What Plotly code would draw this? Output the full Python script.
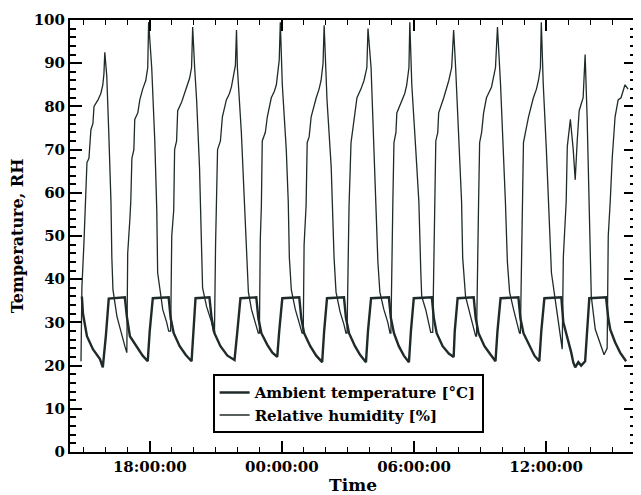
import pandas as pd
import plotly.graph_objects as go

# time in hours from midnight of the first day
temp_hours = [14.92, 14.97, 15.15, 15.42, 15.74, 15.87, 16.01, 16.14, 16.87,
              16.96, 17.10, 17.41, 17.68, 17.91, 18.00, 18.14, 18.86,
              18.95, 19.09, 19.36, 19.63, 19.90, 19.99, 20.08, 20.71,
              20.81, 20.94, 21.21, 21.53, 21.85, 21.98, 22.12, 22.84,
              22.93, 23.07, 23.34, 23.57, 23.79, 23.88, 24.02, 24.79,
              24.88, 25.01, 25.29, 25.56, 25.83, 25.92, 26.05, 26.82,
              26.91, 27.05, 27.32, 27.55, 27.82, 27.91, 28.05, 28.86,
              28.95, 29.09, 29.31, 29.54, 29.77, 29.86, 29.99, 30.81,
              30.90, 31.03, 31.30, 31.58, 31.80, 31.85, 31.98, 32.71,
              32.80, 32.93, 33.20, 33.48, 33.70, 33.79, 33.93, 34.74,
              34.83, 34.97, 35.24, 35.47, 35.69, 35.78, 35.92, 36.69,
              36.78, 36.87, 37.00, 37.14, 37.23, 37.32, 37.46, 37.59, 37.77, 37.86, 37.96, 38.72,
              38.82, 38.91, 39.13, 39.36, 39.63]
temp_values = [36.0, 32.0, 26.8, 23.8, 21.5, 19.6, 27.0, 35.5, 35.8,
               31.4, 26.8, 24.5, 22.3, 21.0, 28.0, 35.6, 35.8,
               31.0, 27.5, 24.5, 22.5, 21.0, 28.0, 35.6, 35.8,
               31.0, 27.5, 24.5, 22.3, 21.3, 28.0, 35.6, 35.8,
               31.0, 27.5, 24.8, 23.0, 22.0, 28.0, 35.6, 35.8,
               31.0, 27.5, 24.5, 22.3, 20.8, 28.0, 35.6, 35.8,
               31.0, 27.5, 24.5, 22.5, 20.8, 28.0, 35.6, 35.8,
               31.0, 27.5, 24.5, 22.3, 20.8, 28.0, 35.6, 35.8,
               31.0, 27.5, 24.5, 22.8, 22.0, 28.0, 35.6, 35.8,
               31.0, 27.5, 24.5, 22.5, 21.0, 28.0, 35.6, 35.8,
               31.0, 27.5, 24.5, 22.3, 21.0, 28.0, 35.6, 35.8,
               30.0, 28.4, 26.0, 23.0, 20.8, 19.6, 20.8, 20.0, 21.0, 28.0, 35.6, 35.8,
               31.0, 28.4, 25.4, 23.0, 21.0]

rh_hours = [14.88, 14.92, 15.01, 15.10, 15.15, 15.24, 15.33, 15.42, 15.47, 15.65,
            15.78, 15.87, 15.92, 15.96, 16.05, 16.14, 16.24, 16.28, 16.33, 16.51,
            16.73, 16.87, 16.96,
            17.00, 17.10, 17.14, 17.19, 17.28, 17.32, 17.46, 17.55, 17.68, 17.82,
            17.86, 17.91, 17.95, 18.09, 18.23, 18.32, 18.36, 18.45, 18.59, 18.77, 18.86,
            18.95, 19.00, 19.09, 19.13, 19.22, 19.27, 19.45, 19.58, 19.67, 19.81,
            19.90, 19.95, 20.04, 20.13, 20.26, 20.35, 20.40, 20.58, 20.81, 20.90,
            20.94, 20.99, 21.03, 21.08, 21.21, 21.30, 21.48, 21.62, 21.71, 21.85,
            21.89, 21.94, 21.98, 22.16, 22.30, 22.39, 22.48, 22.62, 22.80, 22.93,
            22.98, 23.02, 23.07, 23.11, 23.25, 23.34, 23.52, 23.66, 23.75, 23.88,
            23.93, 24.02, 24.20, 24.29, 24.34, 24.43, 24.61, 24.79, 24.92,
            24.97, 25.01, 25.10, 25.15, 25.24, 25.33, 25.56, 25.69, 25.78, 25.87,
            25.92, 26.05, 26.24, 26.28, 26.37, 26.46, 26.64, 26.82, 26.91,
            26.96, 27.00, 27.05, 27.14, 27.23, 27.32, 27.41, 27.59, 27.73, 27.86,
            27.91, 28.05, 28.18, 28.27, 28.36, 28.45, 28.63, 28.81, 28.91,
            28.95, 29.00, 29.04, 29.09, 29.18, 29.22, 29.45, 29.58, 29.67, 29.77,
            29.81, 29.90, 30.08, 30.22, 30.31, 30.35, 30.53, 30.67, 30.76,
            30.85, 30.90, 30.94, 30.99, 31.08, 31.12, 31.35, 31.48, 31.58, 31.71,
            31.80, 31.89, 32.03, 32.16, 32.21, 32.34, 32.57, 32.71, 32.80,
            32.84, 32.89, 32.93, 32.98, 33.07, 33.16, 33.29, 33.43, 33.52, 33.70,
            33.79, 33.93, 34.06, 34.15, 34.24, 34.34, 34.52, 34.70, 34.79,
            34.83, 34.88, 34.92, 34.97, 35.06, 35.20, 35.42, 35.56, 35.65, 35.74,
            35.78, 35.87, 36.01, 36.10, 36.19, 36.24, 36.42, 36.55, 36.69, 36.73,
            36.78, 36.87, 36.91, 36.96, 37.10, 37.23, 37.32, 37.41, 37.50, 37.68,
            37.73, 37.77, 37.86, 37.96, 38.05, 38.23, 38.45, 38.63, 38.77,
            38.82, 38.91, 38.95, 39.00, 39.13, 39.27, 39.40, 39.58, 39.72]
rh_values = [21.0, 38.0, 48.0, 58.0, 67.0, 68.0, 74.6, 76.0, 80.0, 81.5,
             83.0, 85.0, 87.5, 92.5, 87.0, 74.0, 58.0, 45.0, 37.6, 31.4,
             26.8, 24.5, 23.0,
             46.0, 54.0, 58.0, 68.0, 70.0, 77.0, 78.5, 81.5, 84.0, 86.0,
             88.0, 89.0, 99.5, 89.0, 72.0, 56.0, 41.5, 37.6, 33.0, 30.0, 28.0,
             28.0, 50.0, 56.0, 70.0, 72.0, 79.0, 81.0, 83.0, 84.5, 86.5,
             89.0, 98.4, 89.0, 81.5, 66.0, 48.0, 38.0, 33.7, 30.0, 27.7,
             27.7, 48.0, 57.0, 70.0, 72.0, 77.6, 81.5, 83.0, 84.5, 88.0,
             89.5, 97.7, 89.0, 74.0, 58.0, 45.0, 37.0, 33.0, 30.0, 27.5,
             27.5, 49.0, 57.0, 72.0, 74.0, 77.6, 82.0, 83.5, 85.0, 90.7,
             99.5, 85.0, 70.0, 58.0, 45.0, 37.5, 33.0, 29.5, 27.5,
             27.5, 48.0, 57.0, 71.6, 73.0, 77.6, 82.0, 84.0, 86.0, 90.0,
             98.8, 81.5, 66.0, 58.0, 45.0, 37.0, 32.5, 29.5, 27.5,
             27.5, 48.0, 57.0, 71.6, 75.0, 78.5, 82.0, 84.0, 86.0, 89.0,
             98.0, 89.0, 70.0, 58.0, 44.0, 37.0, 33.0, 30.0, 27.5,
             27.5, 50.0, 58.0, 71.6, 74.0, 78.5, 81.5, 83.0, 85.0, 89.0,
             99.5, 85.0, 70.0, 58.0, 41.5, 36.0, 33.0, 30.0, 27.7,
             27.7, 48.0, 57.0, 72.0, 74.0, 78.5, 82.0, 84.0, 86.0, 89.0,
             97.7, 89.0, 74.0, 58.0, 45.0, 36.0, 31.4, 28.4, 26.8,
             26.8, 48.0, 57.0, 71.6, 74.0, 78.5, 82.0, 83.5, 84.5, 89.0,
             98.4, 85.0, 70.0, 58.0, 44.0, 37.0, 33.0, 29.5, 27.5,
             27.5, 48.0, 57.0, 71.6, 74.0, 77.6, 82.0, 84.0, 86.0, 89.0,
             99.5, 85.0, 70.0, 58.0, 48.0, 41.5, 35.0, 30.0, 24.5, 23.8,
             45.0, 56.0, 58.0, 70.7, 77.0, 70.0, 63.0, 72.0, 79.0, 82.0,
             87.7, 92.0, 77.6, 58.0, 36.0, 28.4, 25.4, 22.5, 24.0,
             50.0, 58.0, 63.0, 68.0, 77.6, 81.5, 82.0, 85.0, 84.0]

base = pd.Timestamp("2000-01-01")
temp_time = base + pd.to_timedelta(temp_hours, unit="h")
rh_time = base + pd.to_timedelta(rh_hours, unit="h")

serif = "DejaVu Serif"
line_col = "#1f2a2a"

fig = go.Figure()
fig.add_trace(go.Scatter(x=temp_time, y=temp_values, mode="lines",
                         name="Ambient temperature [°C]",
                         line=dict(color=line_col, width=2.4)))
fig.add_trace(go.Scatter(x=rh_time, y=rh_values, mode="lines",
                         name="Relative humidity [%]",
                         line=dict(color=line_col, width=1.3)))

# the page has an 8px body margin, so the figure is drawn 8px smaller
fig.update_layout(
    width=633, height=487,
    margin=dict(l=62, r=3, t=11, b=42),
    paper_bgcolor="white", plot_bgcolor="white",
    font=dict(family=serif, size=15, color="black", weight="bold"),
    legend=dict(x=0.252, y=0.18, xanchor="left", yanchor="top",
                bordercolor="black", borderwidth=2, bgcolor="white",
                font=dict(family=serif, size=15, weight="bold"),
                tracegroupgap=0, itemwidth=30),
)

fig.update_xaxes(
    type="date",
    range=[base + pd.Timedelta(hours=14.38), base + pd.Timedelta(hours=40.08)],
    tick0=base, dtick=6 * 3600000, tickformat="%H:%M:%S",
    ticks="inside", ticklen=11, tickwidth=1.5, tickcolor="black",
    minor=dict(dtick=3600000, ticks="inside", ticklen=5, tickcolor="black", tickwidth=1.2),
    showline=True, linewidth=2, linecolor="black", mirror="ticks",
    showgrid=False, zeroline=False,
    tickfont=dict(family=serif, size=15, weight="bold"),
    title=dict(text="Time", font=dict(family=serif, size=17, weight="bold"), standoff=4),
)
fig.update_yaxes(
    range=[0, 100], dtick=10, tick0=0,
    ticks="inside", ticklen=12, tickwidth=2, tickcolor="black",
    minor=dict(dtick=2, ticks="inside", ticklen=6, tickcolor="black", tickwidth=1.5),
    showline=True, linewidth=2, linecolor="black", mirror="ticks",
    showgrid=False, zeroline=False,
    tickfont=dict(family=serif, size=15, weight="bold"),
    title=dict(text="Temperature, RH", font=dict(family=serif, size=16, weight="bold"), standoff=6),
)

fig.write_html("out.html")
